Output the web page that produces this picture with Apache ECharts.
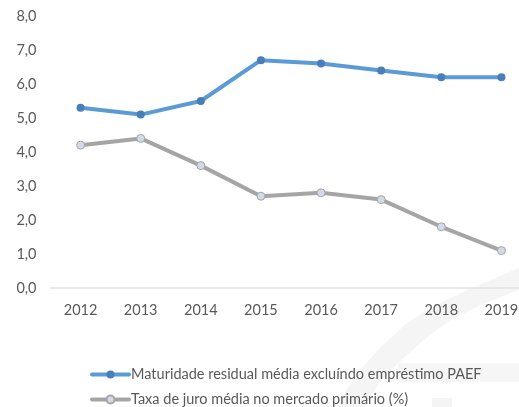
<!DOCTYPE html>
<html><head><meta charset="utf-8">
<style>html,body{margin:0;padding:0;background:#fff}#c{width:519px;height:407px}</style>
<script src="https://cdn.jsdelivr.net/npm/echarts@6/dist/echarts.min.js"></script>
</head><body><div id="c"></div>
<script>
const years=['2012','2013','2014','2015','2016','2017','2018','2019'];
const maturidade=[5.3,5.1,5.5,6.7,6.6,6.4,6.2,6.2];
const taxa=[4.2,4.4,3.6,2.7,2.8,2.6,1.8,1.1];
const nameA='Maturidade residual média excluíndo empréstimo PAEF';
const nameB='Taxa de juro média no mercado primário (%)';
const chart=echarts.init(document.getElementById('c'),null,{renderer:'canvas'});
const font='Lato';
const legendBase={orient:'vertical',left:90,itemWidth:37,itemHeight:10,padding:0,
  lineStyle:{width:4,cap:'round'},
  textStyle:{fontFamily:font,fontSize:14.5,color:'#595959',padding:[0,0,0,-3]}};
chart.setOption({
 animation:false,
 backgroundColor:'#fff',
 graphic:[
  {type:'polygon',z:-1,silent:true,shape:{points:[[519,268],[467,290],[430,308],[407,323],[380,348],[360,370],[345,392],[338,407],[363,407],[380,382],[398,363],[420,343],[450,320],[485,303],[519,290]]},style:{fill:'#f5f5f5'}},
  {type:'rect',z:-1,silent:true,shape:{x:398,y:363,width:121,height:19},style:{fill:'#f6f6f6'}},
  {type:'rect',z:-1,silent:true,shape:{x:432,y:398,width:20,height:9},style:{fill:'#f4f4f4'}}
 ],
 grid:{left:50.5,top:16,width:481,height:272,containLabel:false,outerBoundsMode:'none'},
 legend:[
  Object.assign({},legendBase,{top:367,data:[nameA]}),
  Object.assign({},legendBase,{top:392,data:[nameB]})
 ],
 xAxis:{type:'category',data:years,boundaryGap:true,offset:1,
  axisLine:{lineStyle:{color:'#e2e2e2',width:1.5}},axisTick:{show:false},
  axisLabel:{fontFamily:font,fontSize:14.5,color:'#595959',margin:14}},
 yAxis:{type:'value',min:0,max:8,interval:1,
  axisLine:{show:false},axisTick:{show:false},splitLine:{show:false},
  axisLabel:{fontFamily:font,fontSize:14.5,color:'#595959',margin:14,formatter:v=>v.toFixed(1).replace('.',',')}},
 series:[
  {name:nameA,type:'line',data:maturidade,symbol:'circle',symbolSize:8,showSymbol:true,
   lineStyle:{color:'#5b9bd5',width:4,cap:'round'},itemStyle:{color:'#4a7ebb',borderColor:'#4a7ebb',borderWidth:0}},
  {name:nameB,type:'line',data:taxa,symbol:'circle',symbolSize:8,showSymbol:true,
   lineStyle:{color:'#a5a5a5',width:4,cap:'round'},itemStyle:{color:'#d3d9e6',borderColor:'#a5a5a5',borderWidth:1}}
 ]
});
</script></body></html>
